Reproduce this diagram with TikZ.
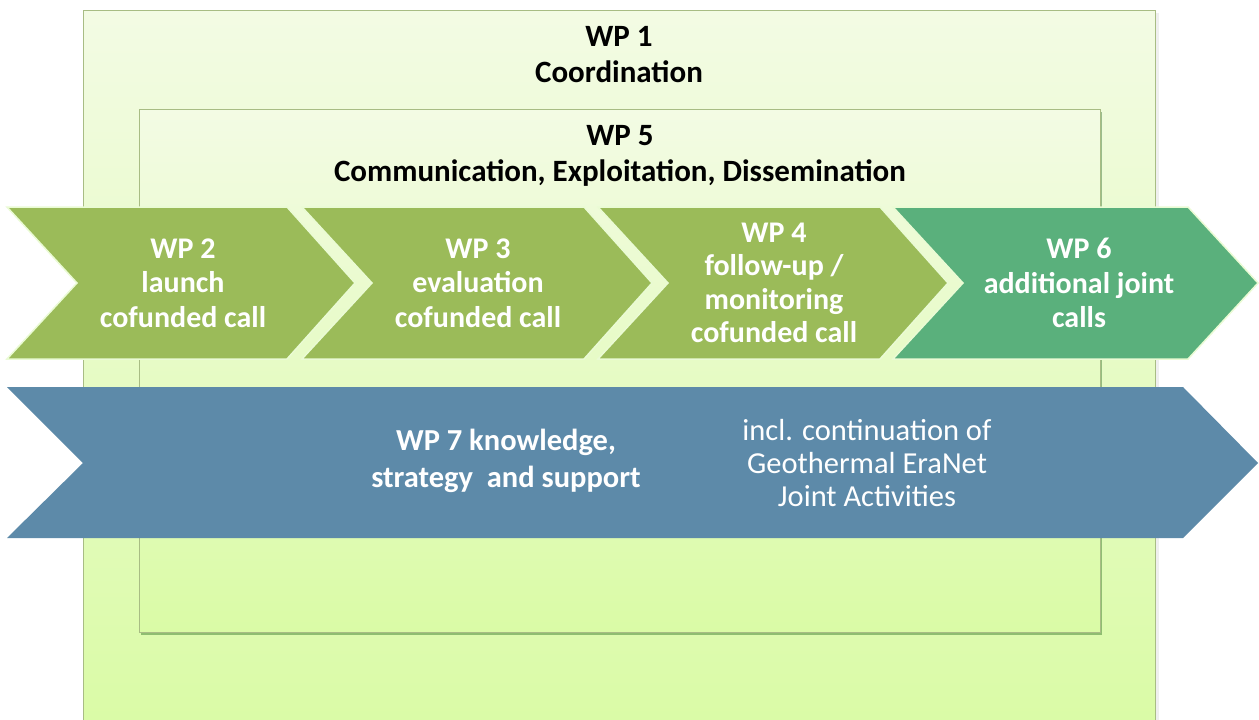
\documentclass[tikz,border=0pt]{standalone}
\usepackage{fontspec}
\setmainfont{Carlito}
\usetikzlibrary{shadows}
\definecolor{boxline}{HTML}{A8BC84}
\definecolor{boxtop}{HTML}{F3FBE4}
\definecolor{boxbot}{HTML}{DAFBA6}
\definecolor{chevgreen}{HTML}{9BBB59}
\definecolor{chevteal}{HTML}{5AB07C}
\definecolor{bandblue}{HTML}{5D8AA9}
\definecolor{gapgreen}{HTML}{EAFBD4}
\tikzset{
  wpbox/.style={draw=boxline, line width=1pt, top color=boxtop, bottom color=boxbot},
  chev/.style={fill=chevgreen, draw=gapgreen, line width=1.5pt, line join=miter},
  chevlabel/.style={text=white, font=\bfseries\fontsize{30}{34.5}\selectfont, align=center},
  titlelabel/.style={text=black, font=\bfseries\fontsize{31}{36}\selectfont, align=center},
  bandlabel/.style={text=white, font=\fontsize{30.5}{33}\selectfont, align=center}
}
\begin{document}
\begin{tikzpicture}[x=1pt, y=-1pt]
\useasboundingbox (0,0) rectangle (1259,720);
\fill[white] (0,0) rectangle (1259,720);

% WP 1 outer frame
\fill[black!12, opacity=0.5] (86,13) rectangle (1159,723);
\draw[wpbox] (83,10) rectangle (1155,725);
\node[titlelabel] (wp1) at (619,55) {WP 1\\Coordination};

% WP 5 inner frame
\draw[wpbox, drop shadow={shadow xshift=2pt, shadow yshift=-3pt, opacity=0.35, fill=black!70!green}]
  (139,109) rectangle (1100,632);
\node[titlelabel] (wp5) at (620,156) {WP 5\\Communication, Exploitation, Dissemination};

% work package chevrons
\draw[chev] (7,207) -- (287,207) -- (355,283) -- (287,359) -- (7,359) -- (77,283) -- cycle;
\draw[chev] (302,207) -- (584,207) -- (652,283) -- (584,359) -- (302,359) -- (372,283) -- cycle;
\draw[chev] (598,207) -- (880,207) -- (948,283) -- (880,359) -- (598,359) -- (668,283) -- cycle;
\draw[chev, fill=chevteal] (893,207) -- (1188,207) -- (1258,283) -- (1188,359) -- (893,359) -- (963,283) -- cycle;
\node[chevlabel] (wp2) at (183,283) {WP 2\\launch\\cofunded call};
\node[chevlabel] (wp3) at (478,283) {WP 3\\evaluation\\cofunded call};
\node[chevlabel, font=\bfseries\fontsize{30}{33.5}\selectfont] (wp4) at (774,283) {WP 4\\follow-up /\\monitoring\\cofunded call};
\node[chevlabel] (wp6) at (1079,283) {WP 6\\additional joint\\calls};

% WP 7 band
\fill[bandblue] (7,387) -- (1183,387) -- (1258,463) -- (1183,538) -- (7,538) -- (83,463) -- cycle;
\node[bandlabel, font=\bfseries\fontsize{30.5}{37}\selectfont] (wp7) at (506,461) {WP 7 knowledge,\\strategy\ \ and support};
\node[bandlabel] (geo) at (867,463) {incl. continuation of\\Geothermal EraNet\\Joint Activities};
\end{tikzpicture}
\end{document}
